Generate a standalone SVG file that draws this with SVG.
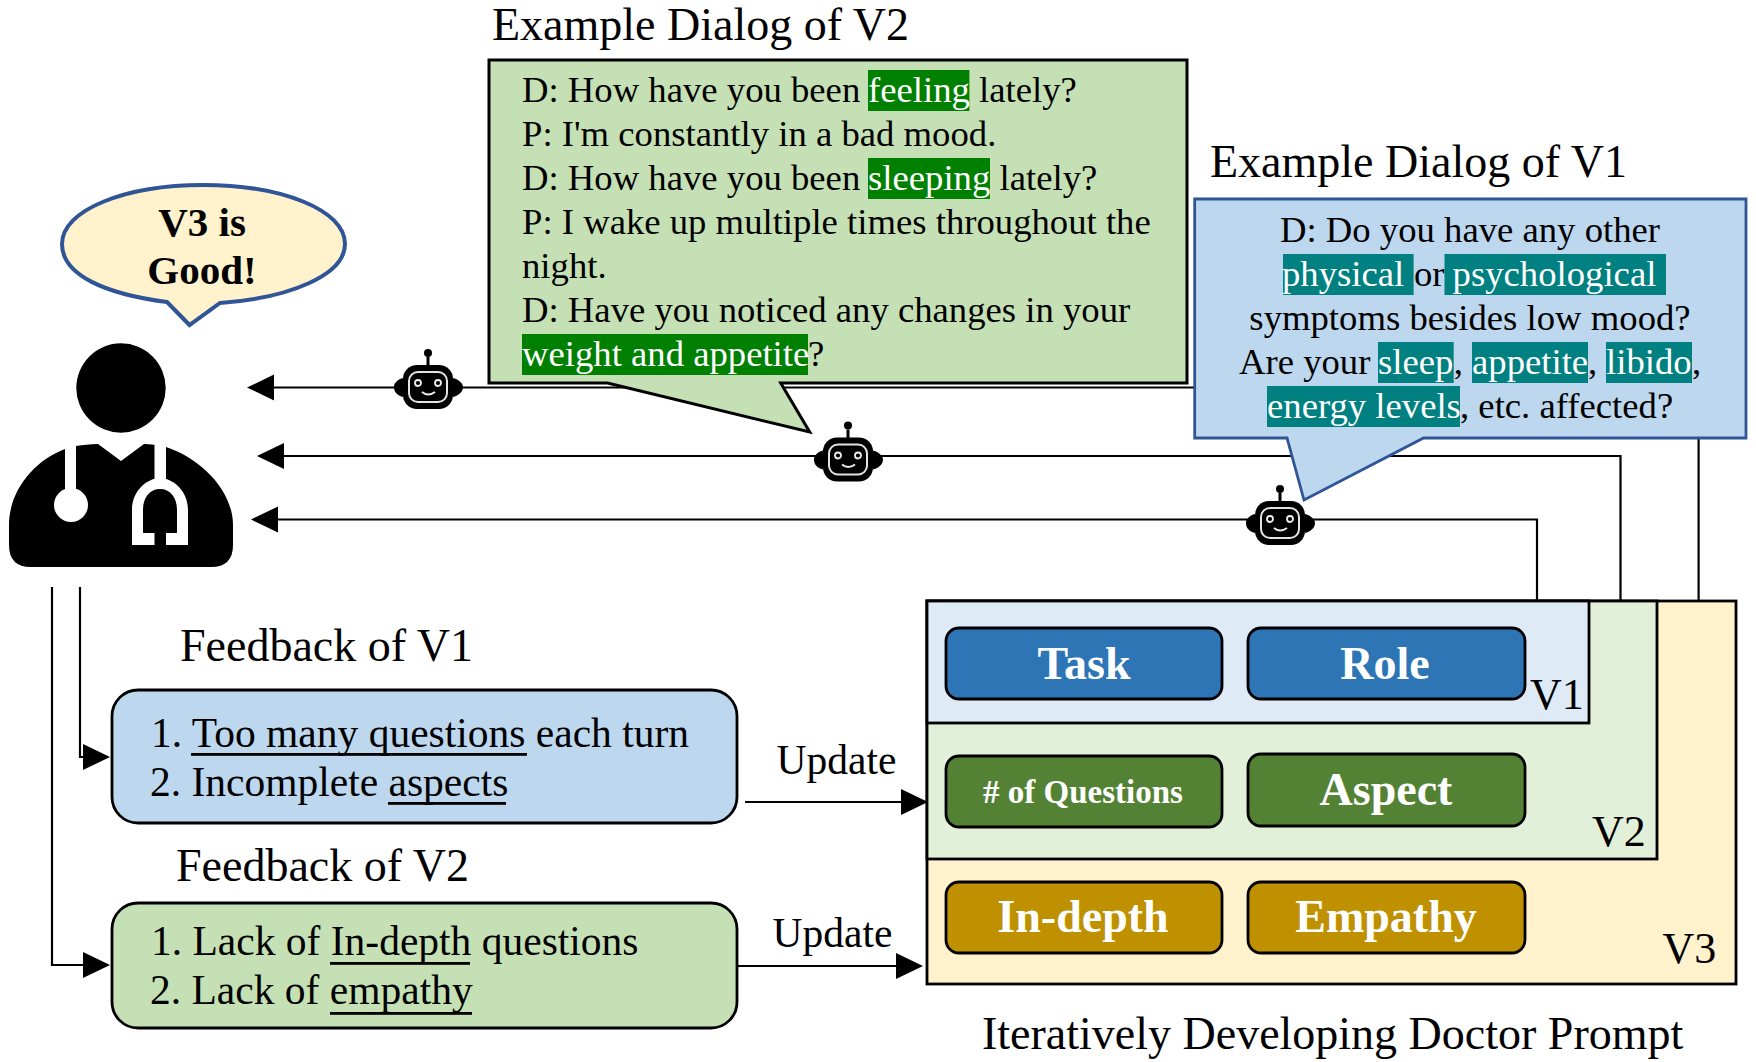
<svg xmlns="http://www.w3.org/2000/svg" xmlns:xlink="http://www.w3.org/1999/xlink" width="1756" height="1062" viewBox="0 0 1756 1062">
<style>
text{font-family:"Liberation Serif","Times New Roman",serif;fill:#000}
.title{font-size:46px}
.body{font-size:36.7px}
.fb{font-size:41.500px}
.lbl{font-size:44px}
.w{fill:#fff}
.btn{font-size:46px;font-weight:bold;fill:#fff;text-anchor:middle}
.b3{font-size:41px;font-weight:bold;text-anchor:middle}
.m{text-anchor:middle}
.conn{fill:none;stroke:#000;stroke-width:2.2}
.box{stroke:#000;stroke-width:2.8}
.fbk{stroke:#000;stroke-width:2.8}
.card{stroke:#000;stroke-width:3}
.gh{fill:#008000}
.th{fill:#008080}
.ul{fill:#000}
</style>
<defs>
<marker id="arr" markerUnits="userSpaceOnUse" markerWidth="28" markerHeight="28" refX="0" refY="14" orient="auto"><path d="M0 1L27 14L0 27Z" fill="#000"/></marker>
<g id="bot">
<path d="M-25 -9C-32 -7 -34 -3 -34 0C-34 4 -32 8 -25 10ZM25 -9C32 -7 35 -3 35 0C35 4 32 8 25 10Z" fill="#000"/>
<rect x="-25" y="-22" width="50" height="44" rx="14" fill="#000"/>
<rect x="-1.500" y="-30" width="3" height="9" fill="#000"/>
<circle cx="0" cy="-34" r="4" fill="#000"/>
<rect x="-19" y="-15" width="38" height="30" rx="9" fill="none" stroke="#e4e4e4" stroke-width="2"/>
<circle cx="-10" cy="-4" r="3" fill="#000" stroke="#eee" stroke-width="1.800"/>
<circle cx="10" cy="-4" r="3" fill="#000" stroke="#eee" stroke-width="1.800"/>
<path d="M-6 5Q0 10 7 5" fill="none" stroke="#eee" stroke-width="2"/>
</g>
</defs>

<g id="connectors">
<polyline class="conn" points="1698.600,601 1698.600,387.500 274,387.500" marker-end="url(#arr)"/>
<polyline class="conn" points="1620.500,601 1620.500,456 284,456" marker-end="url(#arr)"/>
<polyline class="conn" points="1537,601 1537,519.500 278,519.500" marker-end="url(#arr)"/>
<polyline class="conn" points="80,587 80,757 83,757" marker-end="url(#arr)"/>
<polyline class="conn" points="52,587 52,965 83,965" marker-end="url(#arr)"/>
<line class="conn" x1="745" y1="802" x2="901" y2="802" marker-end="url(#arr)"/>
<line class="conn" x1="737" y1="966" x2="896" y2="966" marker-end="url(#arr)"/>
</g>

<g id="doctor">
<circle cx="121" cy="388" r="44.700" fill="#000"/>
<path d="M9 545V525C9 490 35 460 65 449L76 446C83 445 90 444 98 444L121 461L144 444C150 444 158 445 166 447C200 458 233 490 233 525V545Q233 567 211 567H31Q9 567 9 545Z" fill="#000"/>
<rect x="65" y="442" width="11" height="52" fill="#fff"/>
<circle cx="71" cy="505" r="17" fill="#fff"/>
<rect x="154.500" y="442" width="11.500" height="40" fill="#fff"/>
<path d="M132 545V510C132 490 148 478 160 478C172 478 188 490 188 510V545H166V533H177V510C177 497 170 489 160 489C150 489 143 497 143 510V533H154.500V545Z" fill="#fff"/>
</g>

<g id="speech-v3">
<path d="M167 302C105 294 62 275 62 244C62 210 125 185 203 185C282 185 345 210 345 244C345 275 290 298 220 303L189.500 325Z" fill="#FFF2CC" stroke="#2F5597" stroke-width="4"/>
<text class="b3" x="202" y="236">V3 is</text>
<text class="b3" x="202" y="284">Good!</text>
</g>

<g id="robot-1"><use xlink:href="#bot" href="#bot" x="428" y="387"/></g>
<g id="robot-2"><use xlink:href="#bot" href="#bot" x="848" y="459.500"/></g>
<g id="robot-3"><use xlink:href="#bot" href="#bot" x="1280" y="523"/></g>

<g id="dialog-v2">
<text class="title" x="492" y="40">Example Dialog of V2</text>
<path d="M489 60H1187V383H780.700L809.700 432L607.600 383H489Z" fill="#C5E0B4" class="card"/>
<rect class="gh" x="868" y="70" width="101.400" height="41"/>
<rect class="gh" x="868" y="158" width="122" height="41"/>
<rect class="gh" x="522" y="334" width="286" height="41"/>
<text class="body" y="101.500"><tspan x="522">D: How have you been</tspan><tspan x="868" class="w">feeling</tspan><tspan x="979">lately?</tspan></text>
<text class="body" x="522" y="146">P: I'm constantly in a bad mood.</text>
<text class="body" y="190"><tspan x="522">D: How have you been</tspan><tspan x="868" class="w">sleeping</tspan><tspan x="999.500">lately?</tspan></text>
<text class="body" x="522" y="233.500">P: I wake up multiple times throughout the</text>
<text class="body" x="522" y="277.500">night.</text>
<text class="body" x="522" y="321.500">D: Have you noticed any changes in your</text>
<text class="body" y="365.500"><tspan x="522" class="w">weight and appetite</tspan><tspan x="808">?</tspan></text>
</g>

<g id="dialog-v1">
<text class="title" x="1210" y="177">Example Dialog of V1</text>
<path d="M1194.700 199H1746V438H1423.600L1304 500L1287 438H1194.700Z" fill="#BDD7EE" stroke="#2F5597" stroke-width="2.800"/>
<rect class="th" x="1283" y="254" width="130.600" height="41"/>
<rect class="th" x="1444.500" y="254" width="221.500" height="41"/>
<rect class="th" x="1378" y="342" width="75.700" height="41"/>
<rect class="th" x="1472" y="342" width="116" height="41"/>
<rect class="th" x="1606" y="342" width="86" height="41"/>
<rect class="th" x="1267" y="386" width="193" height="41"/>
<text class="body m" x="1470" y="242">D: Do you have any other</text>
<text class="body" y="285.500"><tspan x="1282" class="w">physical</tspan><tspan x="1414">or</tspan></text>
<text class="body w" x="1452.600" y="285.500">psychological</text>
<text class="body m" x="1470" y="329.500">symptoms besides low mood?</text>
<text class="body" y="373.500"><tspan x="1239">Are your</tspan><tspan x="1378" class="w">sleep</tspan><tspan x="1453.700">,</tspan><tspan x="1472" class="w">appetite</tspan><tspan x="1588">,</tspan><tspan x="1606" class="w">libido</tspan><tspan x="1692">,</tspan></text>
<text class="body" y="417.500"><tspan x="1267" class="w">energy levels</tspan><tspan x="1460">, etc. affected?</tspan></text>
</g>

<g id="feedback-v1">
<text class="title" x="180" y="661">Feedback of V1</text>
<rect class="fbk" x="112" y="690" width="625" height="133" rx="26" fill="#BDD7EE"/>
<text class="fb" x="151" y="747">1. Too many questions each turn</text>
<rect class="ul" x="191" y="753" width="336" height="2.800"/>
<text class="fb" x="150" y="796">2. Incomplete aspects</text>
<rect class="ul" x="388" y="802" width="118" height="2.800"/>
</g>

<g id="feedback-v2">
<text class="title" x="176" y="881">Feedback of V2</text>
<rect class="fbk" x="112" y="903" width="625" height="125" rx="26" fill="#C5E0B4"/>
<text class="fb" x="151" y="955">1. Lack of In-depth questions</text>
<rect class="ul" x="330" y="962" width="140" height="2.800"/>
<text class="fb" x="150" y="1004">2. Lack of empathy</text>
<rect class="ul" x="330" y="1012" width="142" height="2.800"/>
</g>

<g id="update-1"><text class="fb" x="776.500" y="774">Update</text></g>
<g id="update-2"><text class="fb" x="772.500" y="947">Update</text></g>

<g id="prompt-v3"><rect class="box" x="927" y="601" width="809" height="383" fill="#FFF2CC"/></g>
<g id="prompt-v2"><rect class="box" x="927" y="601" width="730" height="258" fill="#E2F0D9"/></g>
<g id="prompt-v1"><rect class="box" x="927" y="601" width="662" height="122" fill="#DEEBF7"/></g>
<g id="label-v1"><text class="lbl" x="1530" y="709">V1</text></g>
<g id="label-v2"><text class="lbl" x="1592" y="846">V2</text></g>
<g id="label-v3"><text class="lbl" x="1662.500" y="963">V3</text></g>

<g id="task"><rect class="box" x="946" y="628" width="276" height="71" rx="13" fill="#2E75B6"/><text class="btn" x="1084" y="679">Task</text></g>
<g id="role"><rect class="box" x="1248" y="628" width="277" height="71" rx="13" fill="#2E75B6"/><text class="btn" x="1385" y="679">Role</text></g>
<g id="questions"><rect class="box" x="946" y="756" width="276" height="71" rx="13" fill="#548235"/><text class="btn" style="font-size:33px" x="1083" y="803"># of Questions</text></g>
<g id="aspect"><rect class="box" x="1248" y="754" width="277" height="72" rx="13" fill="#548235"/><text class="btn" x="1386" y="805">Aspect</text></g>
<g id="in-depth"><rect class="box" x="946" y="882" width="276" height="71" rx="13" fill="#BF9000"/><text class="btn" x="1083" y="932">In-depth</text></g>
<g id="empathy"><rect class="box" x="1248" y="882" width="277" height="71" rx="13" fill="#BF9000"/><text class="btn" x="1386" y="932">Empathy</text></g>

<g id="caption"><text class="title" x="982" y="1049">Iteratively Developing Doctor Prompt</text></g>
</svg>
